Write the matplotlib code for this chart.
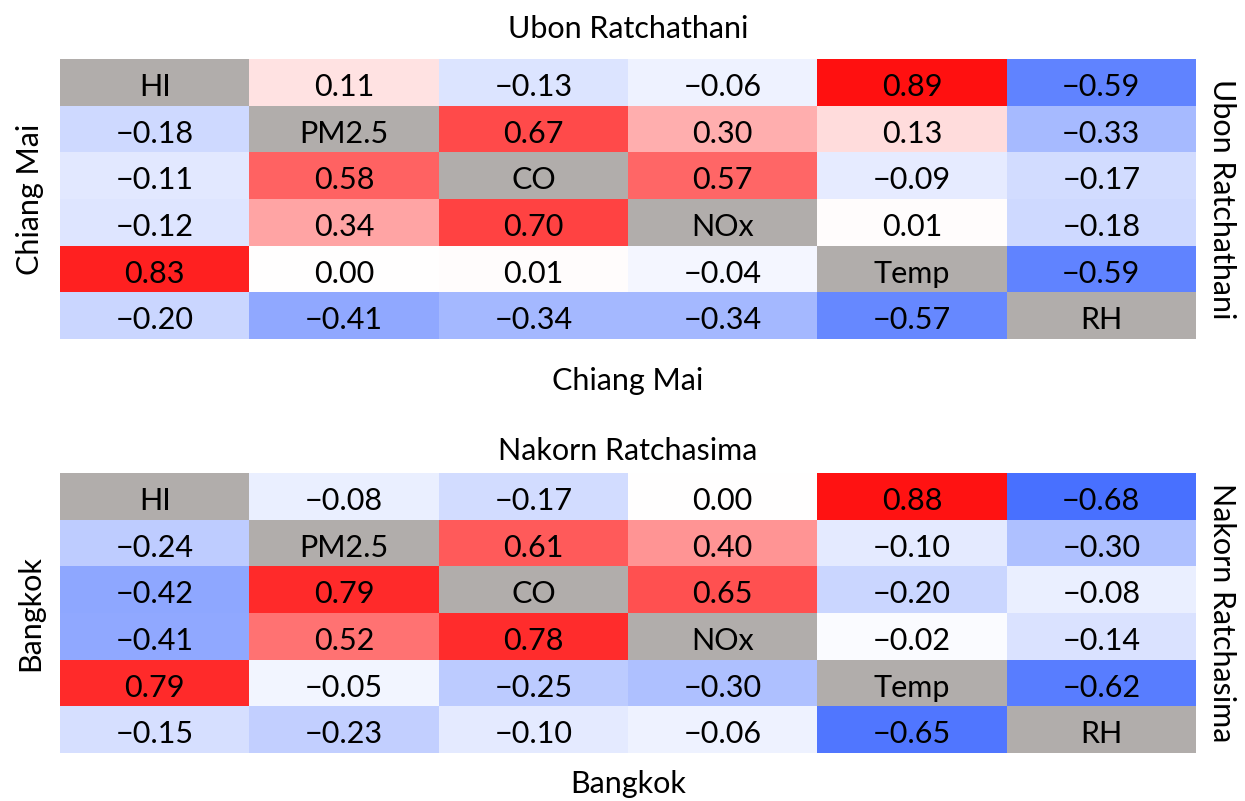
import matplotlib
matplotlib.use("Agg")
import matplotlib.pyplot as plt
import numpy as np
from matplotlib.colors import LinearSegmentedColormap

plt.rcParams['font.family'] = ['Lato', 'DejaVu Sans']

variables = ["HI", "PM2.5", "CO", "NOx", "Temp", "RH"]

# pairwise correlations, lower-triangle order: (1,0),(2,0),(2,1),(3,0),...,(5,4)
chiang_mai = [-0.18, -0.11, 0.58, -0.12, 0.34, 0.70, 0.83, 0.00, 0.01, -0.04,
              -0.20, -0.41, -0.34, -0.34, -0.57]
ubon = [0.11, -0.13, 0.67, -0.06, 0.30, 0.57, 0.89, 0.13, -0.09, 0.01,
        -0.59, -0.33, -0.17, -0.18, -0.59]
bangkok = [-0.24, -0.42, 0.79, -0.41, 0.52, 0.78, 0.79, -0.05, -0.25, -0.30,
           -0.15, -0.23, -0.10, -0.06, -0.65]
nakorn = [-0.08, -0.17, 0.61, 0.00, 0.40, 0.65, 0.88, -0.10, -0.20, -0.02,
          -0.68, -0.30, -0.08, -0.14, -0.62]

panels = [
    ("Chiang Mai", chiang_mai, "Ubon Ratchathani", ubon),
    ("Bangkok", bangkok, "Nakorn Ratchasima", nakorn),
]

cmap = LinearSegmentedColormap.from_list("bwr2", ["#0038ff", "#ffffff", "#ff0000"])
cmap.set_bad("#b1adab")

FS = 22
W, H = 1245, 801


def combine(lower, upper):
    n = len(variables)
    m = np.full((n, n), np.nan)
    il = np.tril_indices(n, -1)
    # tril_indices walks row by row, same order as the lists
    m[il] = lower
    m[il[1], il[0]] = upper
    return np.ma.masked_invalid(m)


fig = plt.figure(figsize=(W / 100, H / 100), dpi=100)

# pixel boxes (x0, y0, x1, y1) from the top-left, plus label spots
layout = [
    dict(box=(60, 59, 1196, 339), title_y=29, xlabel_y=381),
    dict(box=(60, 473, 1196, 753), title_y=451, xlabel_y=784),
]

for lay, (low_name, low, up_name, up) in zip(layout, panels):
    x0, y0, x1, y1 = lay["box"]
    ax = fig.add_axes([x0 / W, 1 - y1 / H, (x1 - x0) / W, (y1 - y0) / H])
    m = combine(low, up)
    n = len(variables)
    ax.pcolormesh(np.arange(n + 1), np.arange(n + 1), m, cmap=cmap, vmin=-0.95, vmax=0.95)
    ax.set_xlim(0, n)
    ax.set_ylim(n, 0)
    for i in range(n):
        for j in range(n):
            if i == j:
                txt = variables[i]
            else:
                txt = f"{m[i, j]:.2f}".replace("-", "\u2212")
            ax.text(j + 0.5, i + 0.6, txt, ha="center", va="center", fontsize=FS)
    ax.set_xticks([])
    ax.set_yticks([])
    for s in ax.spines.values():
        s.set_visible(False)

    xc = (x0 + x1) / 2 / W
    yc = 1 - (y0 + y1) / 2 / H
    fig.text(xc, 1 - lay["title_y"] / H, up_name, ha="center", va="center", fontsize=FS)
    fig.text(xc, 1 - lay["xlabel_y"] / H, low_name, ha="center", va="center", fontsize=FS)
    fig.text(30 / W, yc, low_name, ha="center", va="center", rotation=90, fontsize=FS)
    fig.text(1222 / W, yc, up_name, ha="center", va="center", rotation=-90, fontsize=FS)

fig.savefig("out.png", dpi=100)
